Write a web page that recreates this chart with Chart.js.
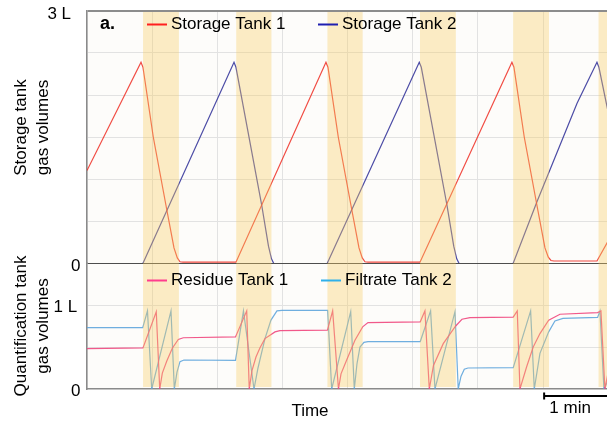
<!DOCTYPE html>
<html>
<head>
<meta charset="utf-8">
<script src="https://cdn.jsdelivr.net/npm/chart.js@4.4.1/dist/chart.umd.min.js"></script>
<style>
  html, body { margin: 0; padding: 0; background: #fff; overflow: hidden; }
  canvas { display: block; }
</style>
</head>
<body>
<canvas id="chart" width="607" height="423"></canvas>
<script>
// time in minutes, volumes in litres
const tank1Time = [0, 0.829, 0.859, 1.017, 1.223, 1.335, 1.386, 1.427, 1.473, 2.286, 3.667, 3.698, 3.856, 4.062, 4.174, 4.224, 4.266, 4.312, 5.110, 6.521, 6.552, 6.710, 6.916, 7.028, 7.079, 7.120, 7.166, 7.826, 7.995];
const tank1Vol  = [1.10, 2.39, 2.33, 1.50, 0.64, 0.18, 0.06, 0.015, 0.01, 0.01, 2.39, 2.33, 1.50, 0.64, 0.18, 0.06, 0.015, 0.01, 0.01, 2.39, 2.33, 1.50, 0.64, 0.18, 0.07, 0.03, 0.024, 0.024, 0.26];

const tank2Time = [0, 0.855, 2.256, 2.286, 2.681, 2.785, 2.831, 2.869, 3.683, 5.099, 5.130, 5.524, 5.628, 5.674, 5.713, 6.537, 6.905, 7.519, 7.826, 7.856, 8.010];
const tank2Vol  = [-0.01, -0.01, 2.39, 2.33, 0.69, 0.20, 0.05, -0.01, -0.01, 2.39, 2.33, 0.69, 0.20, 0.05, -0.01, -0.01, 0.73, 1.90, 2.39, 2.33, 1.75];

const residueTime = [0, 0.859, 1.063, 1.116, 1.156, 1.223, 1.309, 1.401, 1.478, 2.279, 2.451, 2.490, 2.532, 2.593, 2.655, 2.731, 2.885, 2.961, 3.690, 3.770, 3.859, 3.898, 3.985, 4.112, 4.230, 4.312, 5.114, 5.186, 5.253, 5.317, 5.467, 5.658, 5.754, 5.877, 6.541, 6.603, 6.644, 6.747, 6.848, 6.951, 7.085, 7.258, 7.836, 7.887, 7.948, 8.010];
const residueVol  = [0.48, 0.49, 0.92, 0.00, 0.19, 0.33, 0.485, 0.59, 0.61, 0.62, 0.93, 0.00, 0.22, 0.38, 0.49, 0.60, 0.68, 0.695, 0.70, 0.93, 0.00, 0.18, 0.345, 0.58, 0.74, 0.79, 0.80, 0.93, 0.00, 0.28, 0.54, 0.75, 0.83, 0.85, 0.855, 0.93, 0.00, 0.265, 0.50, 0.66, 0.82, 0.89, 0.91, 0.93, 0.00, 0.25];

const filtrateTime = [0, 0.855, 0.928, 0.993, 1.289, 1.340, 1.381, 1.427, 1.488, 2.279, 2.401, 2.563, 2.624, 2.731, 2.823, 2.915, 2.992, 3.693, 3.755, 4.047, 4.102, 4.143, 4.189, 4.250, 4.312, 5.114, 5.273, 5.340, 5.647, 5.697, 5.739, 5.790, 5.846, 6.541, 6.808, 6.864, 6.951, 7.085, 7.181, 7.304, 7.836, 7.872, 7.933, 7.995];
const filtrateVol  = [0.73, 0.73, 0.93, 0.00, 0.93, 0.00, 0.20, 0.325, 0.345, 0.34, 0.93, 0.00, 0.25, 0.60, 0.82, 0.93, 0.935, 0.935, 0.00, 0.92, 0.00, 0.30, 0.50, 0.555, 0.565, 0.565, 0.93, 0.00, 0.92, 0.00, 0.15, 0.235, 0.25, 0.255, 0.93, 0.00, 0.425, 0.68, 0.81, 0.84, 0.853, 0.93, 0.00, 0.10];

// shaded transfer phases (minutes)
const bandStart = [0.86, 2.29, 3.69, 5.11, 6.54, 7.85];
const bandEnd   = [1.41, 2.83, 4.23, 5.66, 7.09, 8.40];

const topTickValues = [0, 3];
const topTickLabels = ['0', '3 L  '];
const bottomTickValues = [0, 1];
const bottomTickLabels = ['0', '1 L\u2009'];

const FONT = '"Liberation Sans", Arial, sans-serif';
const GRID = '#e2e2e2';
const AXIS = '#8a8a8a';

Chart.defaults.font.family = FONT;
Chart.defaults.font.size = 17;
Chart.defaults.color = '#000';

function toPoints(times, vols) {
  return times.map((t, i) => ({ x: t, y: vols[i] }));
}

function lineSet(label, times, vols, color, axis) {
  return {
    label,
    data: toPoints(times, vols),
    borderColor: color,
    borderWidth: 1.2,
    pointRadius: 0,
    tension: 0,
    fill: false,
    yAxisID: axis,
  };
}

// fixed axis box sizes, and no extra room for overhanging labels
function fixWidth(s) {
  s.width = 87;
  s.paddingTop = 0;
  s.paddingBottom = 0;
}

const legendItems = [
  { text: 'Storage Tank 1', color: '#ff1f1f', x: 60, panel: 'y' },
  { text: 'Storage Tank 2', color: '#1f1fb0', x: 231, panel: 'y' },
  { text: 'Residue Tank 1', color: '#ff3d8e', x: 60, panel: 'y2' },
  { text: 'Filtrate Tank 2', color: '#2fb0ea', x: 234, panel: 'y2' },
];

const decorations = {
  id: 'decorations',
  beforeDraw(chart) {
    const { ctx, chartArea: a } = chart;
    ctx.save();
    ctx.fillStyle = '#fdfcfa';
    ctx.fillRect(a.left, a.top, a.right - a.left, a.bottom - a.top);
    ctx.restore();
  },
  afterDatasetsDraw(chart) {
    const { ctx, chartArea: a, scales } = chart;
    const top = scales.y.getPixelForValue(3) + 1;
    const bottom = scales.y2.getPixelForValue(0) - 2;
    ctx.save();
    ctx.beginPath();
    ctx.rect(a.left, a.top, a.right - a.left, a.bottom - a.top);
    ctx.clip();
    ctx.fillStyle = 'rgba(247, 206, 100, 0.36)';
    bandStart.forEach((s, i) => {
      const x0 = scales.x.getPixelForValue(s);
      const x1 = scales.x.getPixelForValue(bandEnd[i]);
      ctx.fillRect(x0, top, x1 - x0, bottom - top);
    });
    ctx.restore();
  },
  afterDraw(chart) {
    const { ctx, chartArea: a, scales } = chart;
    ctx.save();
    ctx.textBaseline = 'middle';
    ctx.fillStyle = '#000';

    ctx.font = 'bold 18px ' + FONT;
    ctx.textAlign = 'left';
    ctx.fillText('a.', a.left + 13, a.top + 13);

    ctx.font = '17px ' + FONT;
    legendItems.forEach((it) => {
      const y = it.panel === 'y' ? a.top + 13 : scales.y2.top + 17;
      ctx.strokeStyle = it.color;
      ctx.lineWidth = 2;
      ctx.beginPath();
      ctx.moveTo(a.left + it.x, y + 0.5);
      ctx.lineTo(a.left + it.x + 20, y + 0.5);
      ctx.stroke();
      ctx.fillText(it.text, a.left + it.x + 24, y);
    });

    ctx.textAlign = 'center';
    ctx.fillText('Time', 310, a.bottom + 22);

    // scale bar, one minute long
    const x0 = scales.x.getPixelForValue(7);
    const x1 = scales.x.getPixelForValue(8);
    const yb = a.bottom + 7;
    ctx.strokeStyle = '#000';
    ctx.lineWidth = 2;
    ctx.beginPath();
    ctx.moveTo(x0, yb);
    ctx.lineTo(x1, yb);
    ctx.moveTo(x0 + 1, yb - 3.5);
    ctx.lineTo(x0 + 1, yb + 3.5);
    ctx.stroke();
    ctx.fillText('1 min', x0 + 27, a.bottom + 19);
    ctx.restore();
  },
};

function tickLabel(values, labels) {
  return (v) => {
    const i = values.indexOf(v);
    return i >= 0 ? labels[i] : '';
  };
}

new Chart(document.getElementById('chart'), {
  type: 'line',
  data: {
    datasets: [
      lineSet('Storage Tank 1', tank1Time, tank1Vol, 'rgba(238, 45, 35, 0.85)', 'y'),
      lineSet('Storage Tank 2', tank2Time, tank2Vol, 'rgba(45, 45, 150, 0.85)', 'y'),
      lineSet('Residue Tank 1', residueTime, residueVol, 'rgba(240, 70, 125, 0.9)', 'y2'),
      lineSet('Filtrate Tank 2', filtrateTime, filtrateVol, 'rgba(95, 165, 220, 0.9)', 'y2'),
    ],
  },
  options: {
    responsive: false,
    animation: false,
    devicePixelRatio: 1,
    layout: { padding: { top: 11, right: 0, bottom: 0, left: 0 } },
    plugins: { legend: { display: false }, tooltip: { enabled: false } },
    scales: {
      x: {
        type: 'linear',
        min: 0,
        max: 7.98,
        ticks: { display: false, stepSize: 1 },
        grid: { color: GRID, drawTicks: false },
        border: { color: AXIS, width: 1.5 },
        afterFit: (s) => { s.height = 34; s.paddingLeft = 0; s.paddingRight = 0; },
      },
      // left-side stacks are laid out in reverse order, so the lower panel comes first
      y2: {
        type: 'linear',
        position: 'left',
        stack: 'panels',
        stackWeight: 1,
        min: 0,
        max: 1.5,
        ticks: { stepSize: 0.5, padding: 6.5, labelOffset: 2.5, autoSkip: false, callback: tickLabel(bottomTickValues, bottomTickLabels) },
        grid: {
          drawTicks: false,
          color: (c) => (c.tick.value === 1.5 || c.tick.value === 0 ? 'rgba(0,0,0,0)' : GRID),
        },
        border: { color: AXIS, width: 1.5 },
        title: {
          display: true,
          text: ['Quantification tank', 'gas volumes'],
          font: { size: 17, lineHeight: 1.294 },
          padding: { top: 10.5, bottom: 0 },
        },
        afterFit: fixWidth,
      },
      y: {
        type: 'linear',
        position: 'left',
        stack: 'panels',
        stackWeight: 2,
        min: 0,
        max: 3,
        ticks: { stepSize: 0.5, padding: 6.5, labelOffset: 3, autoSkip: false, callback: tickLabel(topTickValues, topTickLabels) },
        grid: {
          drawTicks: false,
          color: (c) => (c.tick.value === 3 ? '#8c8c8c' : c.tick.value === 0 ? '#4d4d4d' : GRID),
          lineWidth: (c) => (c.tick.value === 3 ? 2 : 1),
        },
        border: { color: AXIS, width: 1.5 },
        title: {
          display: true,
          text: ['    Storage tank', '    gas volumes'],
          font: { size: 17, lineHeight: 1.294 },
          padding: { top: 10.5, bottom: 0 },
        },
        afterFit: fixWidth,
      },
    },
  },
  plugins: [decorations],
});
</script>
</body>
</html>
